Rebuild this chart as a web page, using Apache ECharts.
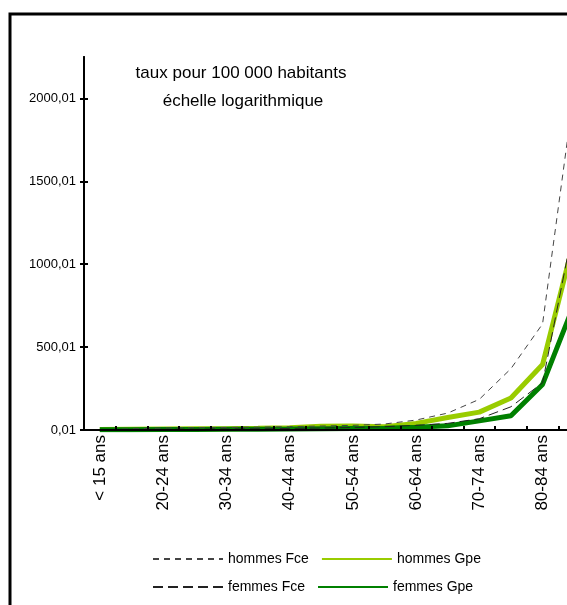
<!DOCTYPE html>
<html>
<head>
<meta charset="utf-8">
<script src="https://cdn.jsdelivr.net/npm/echarts@6/dist/echarts.min.js"></script>
<style>
  html, body { margin: 0; padding: 0; background: #fff; }
  #chart { width: 567px; height: 605px; }
</style>
</head>
<body>
<div id="chart"></div>
<script>
// tranches d'age
var categories = ['< 15 ans', '15-19 ans', '20-24 ans', '25-29 ans', '30-34 ans', '35-39 ans',
  '40-44 ans', '45-49 ans', '50-54 ans', '55-59 ans', '60-64 ans', '65-69 ans',
  '70-74 ans', '75-79 ans', '80-84 ans', '85 ans et +'];

// taux pour 100 000 habitants
var hommesFce = [1, 7, 12, 14, 15, 17, 20, 24, 28, 36, 60, 102, 185, 370, 640, 2050];
var femmesFce = [1, 3, 4, 5, 6, 7, 9, 12, 15, 20, 28, 40, 68, 140, 285, 1250];
var hommesGpe = [3, 5, 6, 7, 8, 10, 14, 22, 24, 20, 40, 75, 108, 193, 395, 1150];
var femmesGpe = [2, 2, 3, 3, 4, 5, 6, 8, 9, 10, 16, 25, 55, 86, 275, 760];

var yTicks = [0.01, 500.01, 1000.01, 1500.01, 2000.01];

var font = 'Liberation Sans, Arial, sans-serif';
var chart = echarts.init(document.getElementById('chart'));

// same box twice: the 2nd grid only carries the inner half of the ticks
var box = { left: 84, top: 57, height: 373, width: 506, outerBoundsMode: 'none', containLabel: false };

var option = {
  animation: false,
  backgroundColor: '#fff',
  textStyle: { fontFamily: font, color: '#000' },
  grid: [box, Object.assign({}, box)],
  graphic: [
    { type: 'rect', shape: { x: 10, y: 14, width: 700, height: 700 },
      style: { fill: 'none', stroke: '#000', lineWidth: 3 } },
    { type: 'text', x: 241, y: 73, style: { text: 'taux pour 100 000 habitants', font: '17px ' + font,
      fill: '#000', textAlign: 'center', textVerticalAlign: 'middle' } },
    { type: 'text', x: 243, y: 101, style: { text: 'échelle logarithmique', font: '17px ' + font,
      fill: '#000', textAlign: 'center', textVerticalAlign: 'middle' } }
  ],
  legend: [
    { data: ['hommes Fce', 'hommes Gpe'], left: 147, top: 547, itemWidth: 70, itemHeight: 6, itemGap: 12,
      itemStyle: { opacity: 0 },
      textStyle: { fontSize: 14, fontFamily: font, color: '#000' } },
    { data: ['femmes Fce', 'femmes Gpe'], left: 147, top: 575, itemWidth: 70, itemHeight: 6, itemGap: 12,
      itemStyle: { opacity: 0 },
      textStyle: { fontSize: 14, fontFamily: font, color: '#000' } }
  ],
  xAxis: [
    {
      type: 'category', gridIndex: 0, data: categories, boundaryGap: true, position: 'bottom', z: 10,
      axisLine: { lineStyle: { color: '#000', width: 2 } },
      axisTick: { interval: 0, length: 4, lineStyle: { color: '#000', width: 2 } },
      axisLabel: { rotate: 90, interval: 1, fontSize: 17, color: '#000', margin: 5, fontFamily: font }
    },
    {
      type: 'category', gridIndex: 1, data: categories, boundaryGap: true, position: 'bottom', z: 10,
      axisLine: { show: true, lineStyle: { color: '#000', width: 2 } },
      axisTick: { show: true, interval: 0, inside: true, length: 4, lineStyle: { color: '#000', width: 2 } },
      axisLabel: { show: false }
    }
  ],
  yAxis: [
    {
      type: 'value', gridIndex: 0, min: 0.01, max: 2250.01, position: 'left', z: 10,
      splitLine: { show: false },
      axisLine: { show: true, lineStyle: { color: '#000', width: 2 } },
      axisTick: { show: true, length: 4, customValues: yTicks, lineStyle: { color: '#000', width: 2 } },
      axisLabel: { customValues: yTicks, fontSize: 13, color: '#000', margin: 8, fontFamily: font,
        formatter: function (v) { return v.toFixed(2).replace('.', ','); } }
    },
    {
      type: 'value', gridIndex: 1, min: 0.01, max: 2250.01, position: 'left', z: 10,
      splitLine: { show: false },
      axisLine: { show: true, lineStyle: { color: '#000', width: 2 } },
      axisTick: { show: true, inside: true, length: 4, customValues: yTicks, lineStyle: { color: '#000', width: 2 } },
      axisLabel: { show: false }
    }
  ],
  series: [
    { name: 'hommes Gpe', type: 'line', data: hommesGpe, symbol: 'none', z: 2,
      lineStyle: { color: '#99cc00', width: 5 }, itemStyle: { color: '#99cc00' } },
    { name: 'femmes Gpe', type: 'line', data: femmesGpe, symbol: 'none', z: 3,
      lineStyle: { color: '#008000', width: 5 }, itemStyle: { color: '#008000' } },
    { name: 'hommes Fce', type: 'line', data: hommesFce, symbol: 'none', z: 4,
      lineStyle: { color: '#444', width: 1, type: [6, 5] }, itemStyle: { color: '#444' } },
    { name: 'femmes Fce', type: 'line', data: femmesFce, symbol: 'none', z: 5,
      lineStyle: { color: '#222', width: 1, type: [10, 5] }, itemStyle: { color: '#222' } }
  ]
};

chart.setOption(option);
</script>
</body>
</html>
